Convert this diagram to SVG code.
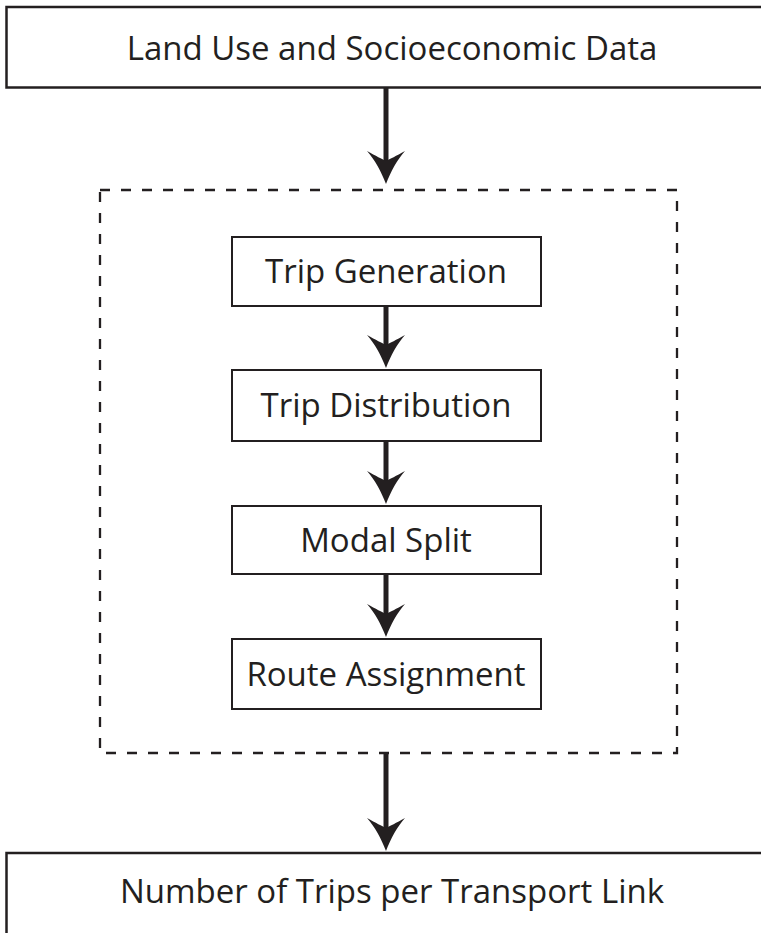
<svg xmlns="http://www.w3.org/2000/svg" width="761" height="933" viewBox="0 0 761 933">
<style>
.box{fill:#fff;stroke:#231f20;stroke-width:2}
.big{fill:#fff;stroke:#231f20;stroke-width:2.5}
.dash{fill:none;stroke:#231f20;stroke-width:2.3;stroke-dasharray:10 11}
.lbl{font-family:"Open Sans","Liberation Sans",sans-serif;font-size:33px;fill:#231f20;text-anchor:middle}
.shaft{stroke:#231f20;stroke-width:5;fill:none}
.head{fill:#231f20}
</style>
<defs>
<path id="ah" d="M0,0 C-5,-13 -11,-24 -19,-33 C-10,-28 -4,-25 0,-23 C4,-25 10,-28 19,-33 C11,-24 5,-13 0,0 Z"/>
</defs>
<rect width="761" height="933" fill="#fff"/>
<g id="n-landuse">
<rect class="big" x="6.5" y="7" width="800" height="80.5"/>
<text class="lbl" x="392" y="60">Land Use and Socioeconomic Data</text>
</g>
<g id="n-model">
<rect class="dash" x="100" y="190" width="577" height="563"/>
</g>
<g id="n-tripgen">
<rect class="box" x="232" y="237" width="309" height="69"/>
<text class="lbl" x="386" y="283">Trip Generation</text>
</g>
<g id="n-tripdist">
<rect class="box" x="232" y="370" width="309" height="71"/>
<text class="lbl" x="386" y="417">Trip Distribution</text>
</g>
<g id="n-modal">
<rect class="box" x="232" y="506" width="309" height="68"/>
<text class="lbl" x="386" y="552">Modal Split</text>
</g>
<g id="n-route">
<rect class="box" x="232" y="639" width="309" height="70"/>
<text class="lbl" x="386" y="686">Route Assignment</text>
</g>
<g id="n-trips">
<rect class="big" x="6.5" y="853" width="800" height="200"/>
<text class="lbl" x="392" y="903">Number of Trips per Transport Link</text>
</g>
<g id="connectors">
<line class="shaft" x1="386" y1="88" x2="386" y2="165"/>
<use href="#ah" class="head" x="386" y="184"/>
<line class="shaft" x1="386" y1="306" x2="386" y2="350"/>
<use href="#ah" class="head" x="386" y="368"/>
<line class="shaft" x1="386" y1="441" x2="386" y2="486"/>
<use href="#ah" class="head" x="386" y="504"/>
<line class="shaft" x1="386" y1="574" x2="386" y2="619"/>
<use href="#ah" class="head" x="386" y="637"/>
<line class="shaft" x1="386" y1="753" x2="386" y2="833"/>
<use href="#ah" class="head" x="386" y="851"/>
</g>
</svg>
